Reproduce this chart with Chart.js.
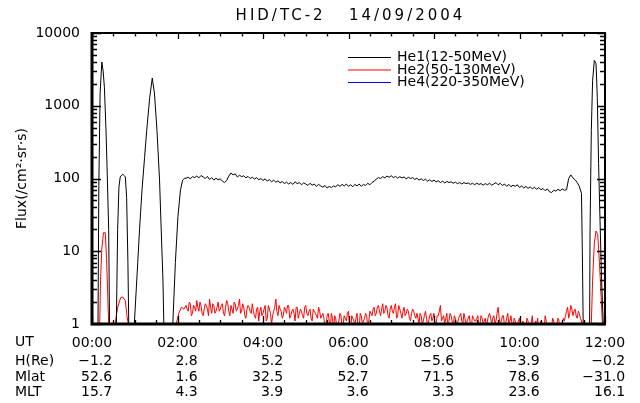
<!DOCTYPE html>
<html><head><meta charset="utf-8">
<script src="https://cdn.jsdelivr.net/npm/chart.js@4"></script>
<style>html,body{margin:0;padding:0;background:#fff}canvas{display:block}</style>
</head><body><canvas id="c" width="640" height="403"></canvas>
<script>
const chartTitle = 'HID/TC-2   14/09/2004';
const yAxisTitle = 'Flux(/cm²·sr·s)';
const seriesLabels = ['He1(12-50MeV)', 'He2(50-130MeV)', 'He4(220-350MeV)'];
const seriesColors = ['#000000', '#ff0000', '#0000ff'];
const yTickValues = [1, 10, 100, 1000, 10000];
const yTickLabels = ['1', '10', '100', '1000', '10000'];
const xTickHours = [0, 2, 4, 6, 8, 10, 12];
const xMinorStep = 0.5;
const rowNames = ['UT', 'H(Re)', 'Mlat', 'MLT'];
const utLabels = ['00:00', '02:00', '04:00', '06:00', '08:00', '10:00', '12:00'];
const hReLabels = ['−1.2', '2.8', '5.2', '6.0', '−5.6', '−3.9', '−0.2'];
const mlatLabels = ['52.6', '1.6', '32.5', '52.7', '71.5', '78.6', '−31.0'];
const mltLabels = ['15.7', '4.3', '3.9', '3.6', '3.3', '23.6', '16.1'];

// uniform grid (hours) for the quiet plateau part
const plateauStart = 2.20, plateauStep = 0.05;

// He1 (black)
const he1PeakTimes = [0.00, 0.12, 0.14, 0.16, 0.19, 0.23, 0.26, 0.29, 0.33, 0.36, 0.39, 0.41, 0.43,
  0.55, 0.57, 0.60, 0.63, 0.66, 0.70, 0.72, 0.75, 0.78, 0.81, 0.84, 0.86, 0.88,
  0.97, 0.99, 1.07, 1.11, 1.17, 1.23, 1.28, 1.35, 1.41, 1.46, 1.52, 1.58, 1.62, 1.66, 1.68, 1.70,
  1.87, 1.89, 1.95, 2.01, 2.07, 2.12, 2.16];
const he1PeakFlux = [0.3, 0.3, 1, 80, 1500, 4000, 3000, 1800, 420, 95, 20, 1, 0.3,
  0.3, 1, 20, 76, 105, 112, 115, 110, 105, 55, 7, 1, 0.3,
  0.3, 1, 7, 19, 70, 195, 460, 1300, 2400, 1500, 460, 95, 19, 4, 1, 0.3,
  0.3, 1, 7, 30, 70, 95, 100];
const he1PlateauFlux = [
  101, 104, 99, 106, 103, 108, 102, 110, 105, 100, 107, 97, 103, 95, 101, 96, 99, 92, 88, 94,
  108, 119, 112, 116, 105, 111, 106, 109, 102, 107, 100, 104, 98, 103, 96, 100, 94, 99, 92, 97,
  90, 95, 89, 93, 87, 91, 85, 89, 84, 88, 83, 90, 85, 88, 82, 87, 84, 80, 86, 81,
  84, 78, 83, 79, 76, 80, 74, 78, 75, 79, 77, 82, 78, 83, 79, 84, 78, 82, 77, 83,
  79, 84, 78, 83, 80, 86, 82, 88, 92, 98, 103, 100, 106, 102, 108, 104, 109, 103, 107, 101,
  106, 102, 105, 99, 104, 100, 103, 97, 101, 95, 99, 94, 98, 92, 96, 91, 95, 90, 93, 88,
  92, 87, 91, 88, 90, 86, 89, 85, 88, 84, 88, 85, 87, 83, 86, 82, 86, 83, 85, 81,
  85, 82, 86, 81, 84, 88, 82, 86, 80, 84, 78, 83, 77, 81, 78, 82, 75, 79, 74, 78,
  73, 77, 72, 76, 71, 75, 70, 73, 68, 72, 66, 64, 69, 67, 71, 68, 72, 69, 70, 100,
  112, 102, 96, 88, 78, 62];
const he1TailTimes = [11.47, 11.49, 11.51, 11.62, 11.64, 11.65, 11.68, 11.71, 11.75, 11.79, 11.82, 11.85, 11.89, 11.92, 11.96, 11.98, 12.00];
const he1TailFlux = [10, 1, 0.3, 0.3, 1, 19, 460, 2200, 4200, 3800, 1300, 160, 19, 4, 1, 0.3, 0.3];

// He2 (red)
const he2PeakTimes = [0.00, 0.17, 0.18, 0.20, 0.23, 0.27, 0.31, 0.34, 0.37, 0.39, 0.41,
  0.52, 0.54, 0.60, 0.67, 0.72, 0.78, 0.82, 0.85, 0.87,
  1.95, 1.97, 2.03, 2.09, 2.15];
const he2PeakFlux = [0.3, 0.3, 1, 4, 11, 18, 18, 8, 2.3, 1, 0.3,
  0.3, 1, 1.7, 2.3, 2.35, 2.1, 1.25, 1, 0.3,
  0.3, 1, 1.4, 1.7, 1.6];
// values on the plateau grid
const he2PlateauFlux = [
  1.8, 1.5, 1.9, 1.4, 1.7, 2.1, 1.5, 1.8, 1.3, 1.9, 1.6, 2.2, 1.4, 1.8, 1.5, 2.0, 1.6, 1.9, 1.3, 2.1,
  1.5, 1.8, 1.4, 1.9, 1.6, 2.2, 1.5, 1.7, 1.2, 1.8, 1.5, 1.9, 1.3, 1.6, 1.1, 1.7, 1.4, 1.8, 1.2, 1.6,
  1.0, 1.5, 2.2, 1.3, 1.6, 1.2, 1.7, 1.4, 1.8, 1.3, 1.6, 1.1, 1.7, 1.4, 1.5, 1.2, 1.8, 1.3, 1.6, 1.1,
  1.5, 1.3, 1.7, 1.2, 1.4, 0.9, 1.3, 1.1, 1.4, 0.8, 1.2, 1.0, 1.4, 0.9, 1.3, 1.1, 1.5, 0.8, 1.2, 1.0,
  1.4, 0.9, 1.3, 1.1, 1.4, 0.9, 1.5, 1.3, 1.7, 1.4, 1.8, 1.3, 1.9, 1.5, 1.7, 1.2, 1.8, 1.4, 1.9, 1.3,
  1.6, 1.2, 1.7, 1.4, 1.5, 1.1, 1.6, 1.3, 1.4, 1.0, 1.3, 1.1, 1.5, 0.9, 1.3, 1.1, 1.4, 1.0, 1.3, 1.8,
  1.2, 1.0, 1.4, 1.1, 1.3, 0.9, 1.2, 1.0, 1.3, 1.1, 1.4, 0.9, 1.2, 1.0, 1.3, 1.1, 1.2, 0.9, 1.3, 1.0,
  1.2, 1.1, 1.4, 1.0, 1.3, 1.1, 1.7, 1.0, 1.3, 0.9, 1.2, 1.0, 1.3, 0.9, 1.1, 1.0, 1.2, 0.8, 1.0, 0.9,
  1.1, 0.8, 1.3, 0.9, 1.0, 0.8, 1.1, 0.9, 1.3, 0.8, 1.0, 0.9, 1.1, 0.8, 1.2, 0.9, 1.0, 1.1, 1.5, 1.2,
  1.8, 1.3, 1.6, 1.2, 1.4, 1.1];
// values half-way between plateau grid points
const he2PlateauMidFlux = [
  1.6, 2.0, 1.3, 1.8, 1.5, 1.7, 2.0, 1.4, 1.6, 1.8, 1.3, 1.7, 1.9, 1.4, 1.7, 1.5,
  1.8, 1.4, 1.7, 1.9, 1.3, 1.6, 2.0, 1.5, 1.8, 1.4, 1.9, 1.3, 1.6, 1.7, 1.4, 1.5,
  1.2, 1.7, 1.5, 1.3, 1.6, 1.1, 1.8, 1.4, 1.3, 1.7, 1.5, 1.8,
  1.5, 1.3, 1.6, 1.8, 1.2, 1.5, 1.4, 1.7, 1.2, 1.6, 1.3, 1.7, 1.4, 1.5, 1.2, 1.6, 1.4, 1.2, 1.5, 1.3,
  1.2, 1.0, 1.4, 0.9, 1.2, 1.3, 0.9, 1.1, 1.3, 1.0, 1.2, 1.4, 0.9, 1.3, 1.1, 1.2, 0.8, 1.4, 1.0, 1.2, 1.3, 1.1,
  1.4, 1.6, 1.3, 1.7, 1.5, 1.6, 1.4, 1.8, 1.3, 1.6, 1.5, 1.7, 1.2, 1.8, 1.4, 1.5, 1.3, 1.6, 1.2, 1.4, 1.5, 1.2,
  1.2, 1.4, 1.0, 1.3, 1.2, 1.1, 1.4, 1.2, 1.0, 1.3, 1.5, 1.1, 1.3, 1.2, 0.9, 1.4,
  1.1, 1.3, 1.0, 1.2, 1.4, 1.0, 1.2, 1.1, 1.3, 0.9, 1.2, 1.1, 1.3, 1.0, 1.2, 1.1, 0.9, 1.3, 1.2,
  1.2, 1.0, 1.4, 1.2, 1.1, 1.3, 1.0, 1.4, 1.1, 1.0, 1.2, 0.9, 1.1,
  0.9, 1.1, 0.8, 1.2, 0.9, 1.0, 0.8, 1.1, 1.2, 0.9, 1.0, 0.8, 1.1, 0.9, 1.0, 1.2, 0.8, 1.0, 1.1, 0.9, 1.2,
  1.3, 1.7, 1.4, 1.6, 1.5, 1.3, 1.5, 1.2];
const he2TailTimes = [11.47, 11.66, 11.68, 11.71, 11.75, 11.79, 11.83, 11.87, 11.91, 11.94, 11.96, 12.00];
const he2TailFlux = [0.3, 0.3, 1, 4, 13, 19, 17, 7, 2.3, 1, 0.3, 0.3];

// He4 (blue): no counts above the plotted floor
const he4Times = [];
const he4Flux = [];

const gridTimes = (n, offset) => Array.from({length: n}, (_, i) => +(plateauStart + offset + plateauStep * i).toFixed(3));
const toPoints = (times, vals) => times.map((t, i) => ({x: t, y: vals[i]}));
const byX = (p, q) => p.x - q.x;
const he1Points = toPoints([...he1PeakTimes, ...gridTimes(he1PlateauFlux.length, 0), ...he1TailTimes],
                           [...he1PeakFlux, ...he1PlateauFlux, ...he1TailFlux]);
const he2Points = [
  ...toPoints(he2PeakTimes, he2PeakFlux),
  ...toPoints(gridTimes(he2PlateauFlux.length, 0), he2PlateauFlux),
  ...toPoints(gridTimes(he2PlateauMidFlux.length, plateauStep / 2), he2PlateauMidFlux),
  ...toPoints(he2TailTimes, he2TailFlux)
].sort(byX);
const he4Points = toPoints(he4Times, he4Flux);

const FONT = '"DejaVu Sans", sans-serif';

const idlFrame = {
  id: 'idlFrame',
  afterDraw(chart) {
    const ctx = chart.ctx;
    const a = chart.chartArea;
    const x = chart.scales.x, y = chart.scales.y;
    ctx.save();
    ctx.globalAlpha = 1;
    ctx.globalCompositeOperation = 'source-over';
    ctx.setLineDash([]);
    ctx.strokeStyle = '#000000';
    // top and right sides of the frame
    ctx.lineWidth = 2;
    ctx.beginPath();
    ctx.moveTo(a.left, a.top); ctx.lineTo(a.right, a.top); ctx.lineTo(a.right, a.bottom);
    ctx.stroke();
    // heavier left and bottom sides
    ctx.lineWidth = 3;
    ctx.beginPath();
    ctx.moveTo(a.left, a.top - 1); ctx.lineTo(a.left, a.bottom); ctx.lineTo(a.right + 1, a.bottom);
    ctx.stroke();
    // inward ticks
    ctx.lineWidth = 1.3;
    ctx.beginPath();
    const nMinor = Math.round((x.max - x.min) / xMinorStep);
    for (let k = 0; k <= nMinor; k++) {
      const h = x.min + k * xMinorStep;
      const px = Math.round(x.getPixelForValue(h)) + 0.5;
      const major = xTickHours.indexOf(h) >= 0;
      const lenB = major ? 8 : 4, lenT = major ? 6 : 3.5;
      ctx.moveTo(px, a.bottom); ctx.lineTo(px, a.bottom - lenB);
      ctx.moveTo(px, a.top); ctx.lineTo(px, a.top + lenT);
    }
    for (let d = 0; d < yTickValues.length; d++) {
      const dec = yTickValues[d];
      const py = Math.round(y.getPixelForValue(dec)) + 0.5;
      ctx.moveTo(a.left, py); ctx.lineTo(a.left + 9, py);
      ctx.moveTo(a.right, py); ctx.lineTo(a.right - 8, py);
      if (d < yTickValues.length - 1) {
        for (let m = 2; m <= 9; m++) {
          const pm = Math.round(y.getPixelForValue(m * dec)) + 0.5;
          ctx.moveTo(a.left, pm); ctx.lineTo(a.left + 5, pm);
          ctx.moveTo(a.right, pm); ctx.lineTo(a.right - 5, pm);
        }
      }
    }
    ctx.stroke();

    // title
    ctx.fillStyle = '#000';
    ctx.font = '15px ' + FONT;
    ctx.textAlign = 'center';
    ctx.textBaseline = 'middle';
    if ('letterSpacing' in ctx) ctx.letterSpacing = '3px';
    ctx.fillText(chartTitle, (a.left + a.right) / 2 + 2, 16);
    if ('letterSpacing' in ctx) ctx.letterSpacing = '0px';

    // legend
    ctx.font = '14px ' + FONT;
    ctx.textAlign = 'left';
    chart.data.datasets.forEach((ds, i) => {
      const ly = a.top + 24.5 + i * 12.5;
      ctx.strokeStyle = ds.borderColor;
      ctx.lineWidth = 1;
      ctx.beginPath();
      ctx.moveTo(348, ly); ctx.lineTo(391, ly);
      ctx.stroke();
      ctx.fillStyle = '#000';
      ctx.fillText(ds.label, 397, ly);
    });

    // bottom table
    ctx.fillStyle = '#000';
    const half = ctx.measureText(utLabels[0]).width / 2;
    const rows = [hReLabels, mlatLabels, mltLabels];
    const rowY = [a.bottom + 37, a.bottom + 53, a.bottom + 68];
    ctx.textAlign = 'left';
    ctx.fillText(rowNames[0], 15, a.bottom + 18);
    rows.forEach((labels, r) => {
      ctx.textAlign = 'left';
      ctx.fillText(rowNames[r + 1], 15, rowY[r]);
      ctx.textAlign = 'right';
      labels.forEach((s, i) => ctx.fillText(s, x.getPixelForValue(xTickHours[i]) + half, rowY[r]));
    });
    ctx.restore();
  }
};

new Chart(document.getElementById('c'), {
  type: 'line',
  data: {
    datasets: [
      {label: seriesLabels[0], data: he1Points, borderColor: seriesColors[0], borderWidth: 1},
      {label: seriesLabels[1], data: he2Points, borderColor: seriesColors[1], borderWidth: 1},
      {label: seriesLabels[2], data: he4Points, borderColor: seriesColors[2], borderWidth: 1}
    ]
  },
  options: {
    responsive: false,
    animation: false,
    devicePixelRatio: 1,
    elements: {point: {radius: 0}, line: {tension: 0}},
    layout: {padding: {left: 0, right: 35, top: 33, bottom: 0}},
    plugins: {legend: {display: false}, title: {display: false}, tooltip: {enabled: false}},
    scales: {
      x: {
        type: 'linear', min: 0, max: 12,
        afterBuildTicks: s => { s.ticks = xTickHours.map(v => ({value: v})); },
        afterFit: s => { s.height = 79; },
        ticks: {callback: (v, i) => utLabels[i], font: {family: FONT, size: 14}, color: '#000',
                padding: 3, maxRotation: 0, autoSkip: false},
        grid: {display: false},
        border: {display: true, color: '#000', width: 2}
      },
      y: {
        type: 'logarithmic', min: 1, max: 10000,
        afterBuildTicks: s => { s.ticks = yTickValues.map(v => ({value: v})); },
        afterFit: s => { s.width = 92; },
        ticks: {callback: (v, i) => yTickLabels[i], font: {family: FONT, size: 14}, color: '#000', padding: 4},
        title: {display: true, text: yAxisTitle, font: {family: FONT, size: 14}, color: '#000', padding: {top: 14, bottom: 0}},
        grid: {display: false},
        border: {display: true, color: '#000', width: 2}
      }
    }
  },
  plugins: [idlFrame]
});
</script>
</body></html>
